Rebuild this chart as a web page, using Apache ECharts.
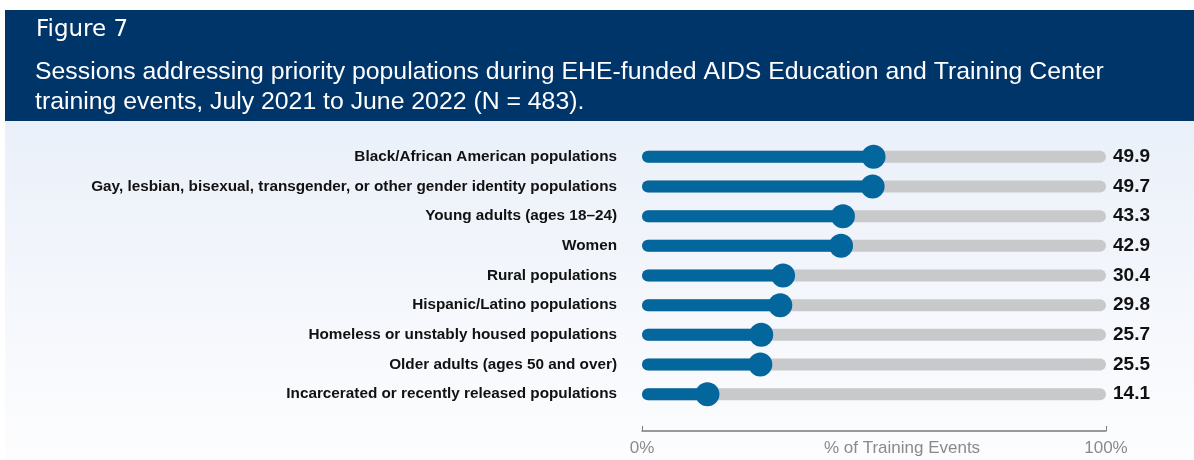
<!DOCTYPE html>
<html>
<head>
<meta charset="utf-8">
<script src="https://cdn.jsdelivr.net/npm/echarts@6/dist/echarts.min.js"></script>
<style>
  html, body { margin: 0; padding: 0; background: #fff; }
  #chart { width: 1194px; height: 460px; }
</style>
</head>
<body>
<div id="chart"></div>
<script>
const categories = [
  'Black/African American populations',
  'Gay, lesbian, bisexual, transgender, or other gender identity populations',
  'Young adults (ages 18\u201324)',
  'Women',
  'Rural populations',
  'Hispanic/Latino populations',
  'Homeless or unstably housed populations',
  'Older adults (ages 50 and over)',
  'Incarcerated or recently released populations'
];
const values = [49.9, 49.7, 43.3, 42.9, 30.4, 29.8, 25.7, 25.5, 14.1];
const axisMax = 100;
const xTicks = [0, 100];

const blue = '#03669c';
const gray = '#c8c9cb';
const font = 'Liberation Sans, Arial';

const chart = echarts.init(document.getElementById('chart'));

const option = {
  animation: false,
  graphic: [
    {
      type: 'rect',
      shape: { x: 5, y: 121, width: 1189, height: 339 },
      style: {
        fill: new echarts.graphic.LinearGradient(0, 0, 0, 1, [
          { offset: 0, color: '#eaf0f9' },
          { offset: 1, color: '#fdfdfe' }
        ])
      },
      z: -10
    },
    {
      type: 'rect',
      shape: { x: 5, y: 10, width: 1189, height: 111 },
      style: { fill: '#00356a' },
      z: -10
    }
  ],
  title: [
    {
      text: 'Figure 7',
      left: 31,
      top: 14,
      textStyle: {
        color: '#fff',
        fontFamily: 'DejaVu Sans',
        fontWeight: 'normal',
        fontSize: 23
      }
    },
    {
      text: 'Sessions addressing priority populations during EHE-funded AIDS Education and Training Center\ntraining events, July 2021 to June 2022 (N = 483).',
      left: 30,
      top: 52,
      textStyle: {
        color: '#fff',
        fontFamily: font,
        fontWeight: 'normal',
        fontSize: 24.8,
        lineHeight: 30
      }
    }
  ],
  grid: {
    left: 642,
    right: 88,
    top: 142,
    bottom: 51,
    outerBoundsMode: 'none',
    containLabel: false
  },
  xAxis: {
    type: 'value',
    min: 0,
    max: axisMax,
    interval: 100,
    offset: 22,
    name: '% of Training Events',
    nameLocation: 'middle',
    nameGap: 9,
    nameMoveOverlap: false,
    nameTextStyle: {
      color: '#8a8a8a',
      fontFamily: font,
      fontSize: 17,
      verticalAlign: 'top',
      padding: [0, 0, 0, 56]
    },
    axisLine: { show: true, lineStyle: { color: '#7a7a7a', width: 1.5 } },
    axisTick: { show: true, inside: true, length: 5, lineStyle: { color: '#7a7a7a' } },
    splitLine: { show: false },
    axisLabel: {
      margin: 9,
      color: '#8a8a8a',
      fontFamily: font,
      fontSize: 17,
      customValues: xTicks,
      formatter: '{value}%'
    }
  },
  yAxis: {
    type: 'category',
    inverse: true,
    data: categories,
    axisLine: { show: false },
    axisTick: { show: false },
    axisLabel: {
      margin: 25,
      color: '#111',
      fontFamily: font,
      fontWeight: 'bold',
      fontSize: 15.3
    }
  },
  series: [
    {
      name: 'track',
      type: 'bar',
      data: categories.map(() => axisMax),
      barWidth: 12,
      barGap: '-100%',
      itemStyle: { color: gray, borderRadius: 6 },
      label: {
        show: true,
        position: 'right',
        distance: 7,
        formatter: (p) => values[p.dataIndex].toFixed(1),
        color: '#111',
        fontFamily: font,
        fontWeight: 'bold',
        fontSize: 19
      },
      silent: true,
      z: 1
    },
    {
      name: 'value',
      type: 'bar',
      data: values,
      barWidth: 12,
      barGap: '-100%',
      itemStyle: { color: blue, borderRadius: [6, 0, 0, 6] },
      z: 2
    },
    {
      name: 'dot',
      type: 'scatter',
      data: values.map((v, i) => [v, i]),
      symbolSize: 24,
      itemStyle: { color: blue, opacity: 1 },
      z: 3
    }
  ]
};

chart.setOption(option);
</script>
</body>
</html>
